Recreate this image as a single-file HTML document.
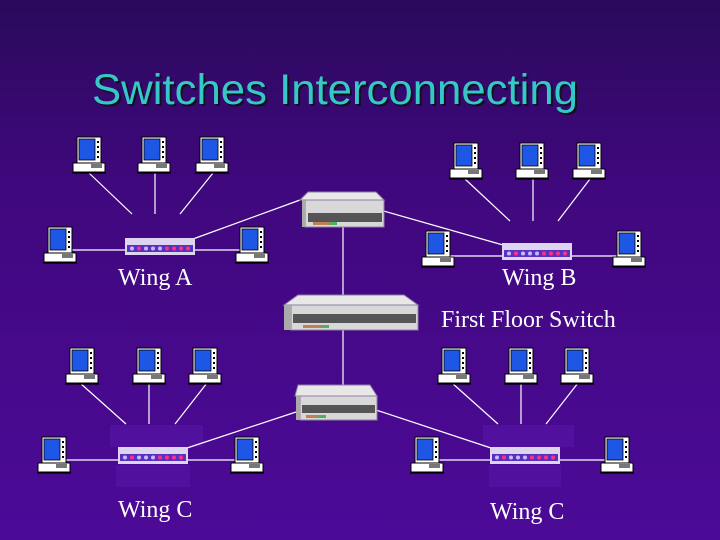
<!DOCTYPE html>
<html><head><meta charset="utf-8"><style>
html,body{margin:0;padding:0;width:720px;height:540px;overflow:hidden}
svg{display:block}
</style></head><body>
<svg width="720" height="540" viewBox="0 0 720 540" xmlns="http://www.w3.org/2000/svg">
<defs>
<linearGradient id="bg" x1="0" y1="0" x2="0" y2="1">
<stop offset="0" stop-color="#2a0a5c"/>
<stop offset="0.35" stop-color="#40087e"/>
<stop offset="1" stop-color="#4c0a98"/>
</linearGradient>
<g id="pc">
<rect x="5" y="0" width="24" height="26" fill="#fff" stroke="#000" stroke-width="1"/>
<rect x="7" y="2" width="16" height="21" fill="#1e56e6" stroke="#000" stroke-width="0.8"/>
<rect x="25" y="4" width="2" height="2" fill="#000"/><rect x="25" y="9" width="2" height="2" fill="#000"/><rect x="25" y="14" width="2" height="2" fill="#000"/><rect x="25" y="19" width="2" height="2" fill="#000"/>
<rect x="1" y="26" width="32" height="9" fill="#fff" stroke="#000" stroke-width="1"/>
<rect x="19" y="27" width="11" height="4" fill="#777"/>
<path d="M0 36 L34 36" stroke="#000" stroke-width="1.2"/>
</g>
<g id="hub">
<rect x="0" y="0" width="70" height="17" fill="#ddd4f0"/>
<rect x="2" y="7" width="66" height="7" fill="#5a30c0"/>
<circle cx="7" cy="10.5" r="2" fill="#c8b8ff"/><circle cx="14" cy="10.5" r="2" fill="#ff3080"/><circle cx="21" cy="10.5" r="2" fill="#c8b8ff"/><circle cx="28" cy="10.5" r="2" fill="#c8b8ff"/><circle cx="35" cy="10.5" r="2" fill="#c8b8ff"/><circle cx="42" cy="10.5" r="2" fill="#ff3080"/><circle cx="49" cy="10.5" r="2" fill="#ff3080"/><circle cx="56" cy="10.5" r="2" fill="#ff3080"/><circle cx="63" cy="10.5" r="2" fill="#ff3080"/>
</g>
</defs>
<rect width="720" height="540" fill="url(#bg)"/>
<text x="94" y="106" font-family="Liberation Sans, sans-serif" font-size="43" fill="#101020" textLength="486" lengthAdjust="spacingAndGlyphs">Switches Interconnecting</text>
<text x="92" y="104" font-family="Liberation Sans, sans-serif" font-size="43" fill="#36c8c8" textLength="486" lengthAdjust="spacingAndGlyphs">Switches Interconnecting</text>

<!-- darker patches behind C hubs -->
<rect x="110" y="425" width="93" height="22" fill="#52109e"/><rect x="116" y="465" width="74" height="22" fill="#52109e"/>
<rect x="483" y="425" width="91" height="22" fill="#52109e"/><rect x="489" y="465" width="72" height="22" fill="#52109e"/>

<g stroke="#fff" stroke-width="1.2" fill="none">
<line x1="89" y1="173" x2="132" y2="214"/><line x1="155" y1="173" x2="155" y2="214"/><line x1="213" y1="173" x2="180" y2="214"/>
<line x1="70" y1="250" x2="240" y2="250"/><line x1="193" y1="239" x2="300" y2="200"/>
<line x1="465" y1="179" x2="510" y2="221"/><line x1="533" y1="179" x2="533" y2="221"/><line x1="590" y1="179" x2="558" y2="221"/>
<line x1="450" y1="256" x2="620" y2="256"/><line x1="503" y1="245" x2="380" y2="210"/>
<line x1="343" y1="226" x2="343" y2="296"/><line x1="343" y1="330" x2="343" y2="385"/>
<line x1="80" y1="383" x2="126" y2="424"/><line x1="149" y1="383" x2="149" y2="424"/><line x1="207" y1="383" x2="175" y2="424"/>
<line x1="65" y1="460" x2="235" y2="460"/><line x1="187" y1="448" x2="296" y2="412"/>
<line x1="452" y1="383" x2="498" y2="424"/><line x1="521" y1="383" x2="521" y2="424"/><line x1="578" y1="383" x2="546" y2="424"/>
<line x1="438" y1="460" x2="605" y2="460"/><line x1="491" y1="448" x2="376" y2="410"/>
</g>

<g>
<polygon points="300,200 308,192 376,192 384,200" fill="#e8e8e8" stroke="#9080a0"/>
<rect x="305" y="200" width="79" height="27" fill="#d8d8d8" stroke="#9080a0"/>
<rect x="302" y="200" width="3" height="27" fill="#aaa"/>
<rect x="308" y="213" width="74" height="9" fill="#555"/>
<rect x="313" y="222" width="16" height="3" fill="#c08050"/><rect x="329" y="222" width="8" height="3" fill="#50b060"/>
</g>
<g>
<polygon points="284,305 298,295 404,295 418,305" fill="#e8e8e8" stroke="#9080a0"/>
<rect x="291" y="305" width="127" height="25" fill="#d8d8d8" stroke="#9080a0"/>
<rect x="284" y="305" width="7" height="25" fill="#aaa"/>
<rect x="293" y="314" width="123" height="9" fill="#555"/>
<rect x="303" y="325" width="26" height="3" fill="#c08050"/><rect x="321" y="325" width="8" height="3" fill="#50b060"/>
</g>
<g>
<polygon points="295,396 298,385 370,385 377,396" fill="#e8e8e8" stroke="#9080a0"/>
<rect x="300" y="396" width="77" height="24" fill="#d8d8d8" stroke="#9080a0"/>
<rect x="296" y="396" width="4" height="24" fill="#aaa"/>
<rect x="302" y="405" width="73" height="8" fill="#555"/>
<rect x="306" y="415" width="16" height="3" fill="#c08050"/><rect x="318" y="415" width="8" height="3" fill="#50b060"/>
</g>

<use href="#hub" x="125" y="238"/>
<use href="#hub" x="502" y="243"/>
<use href="#hub" x="118" y="447"/>
<use href="#hub" x="490" y="447"/>

<use href="#pc" x="72" y="137"/><use href="#pc" x="137" y="137"/><use href="#pc" x="195" y="137"/>
<use href="#pc" x="43" y="227"/><use href="#pc" x="235" y="227"/>
<use href="#pc" x="449" y="143"/><use href="#pc" x="515" y="143"/><use href="#pc" x="572" y="143"/>
<use href="#pc" x="421" y="231"/><use href="#pc" x="612" y="231"/>
<use href="#pc" x="65" y="348"/><use href="#pc" x="132" y="348"/><use href="#pc" x="188" y="348"/>
<use href="#pc" x="37" y="437"/><use href="#pc" x="230" y="437"/>
<use href="#pc" x="437" y="348"/><use href="#pc" x="504" y="348"/><use href="#pc" x="560" y="348"/>
<use href="#pc" x="410" y="437"/><use href="#pc" x="600" y="437"/>

<g font-family="Liberation Serif, serif" font-size="24" fill="#fff">
<text x="118" y="285">Wing A</text>
<text x="502" y="285">Wing B</text>
<text x="441" y="327">First Floor Switch</text>
<text x="118" y="517">Wing C</text>
<text x="490" y="519">Wing C</text>
</g>
</svg>
</body></html>
